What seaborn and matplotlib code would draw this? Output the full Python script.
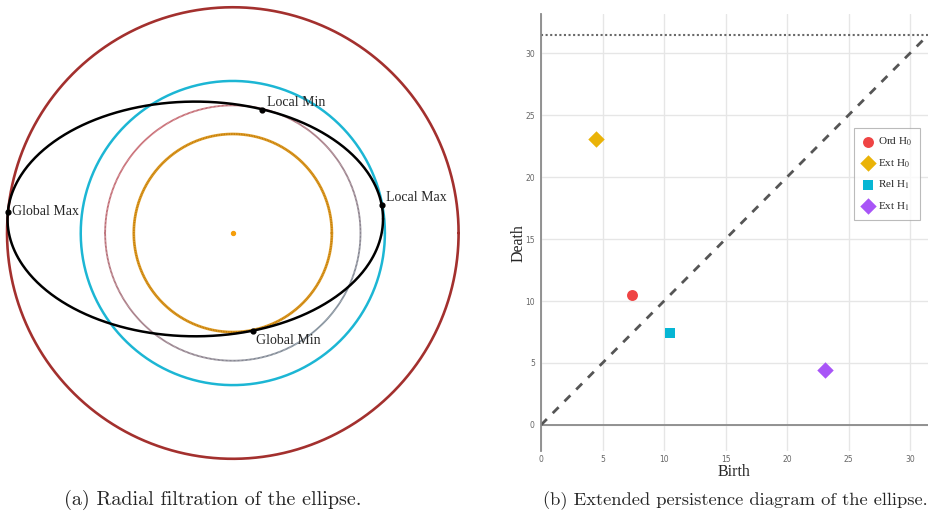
import numpy as np
import pandas as pd
import seaborn as sns
import matplotlib.pyplot as plt
from matplotlib.collections import LineCollection
from matplotlib.colors import to_rgb

# ellipse and radial filtration (left panel)
ellipse_center = (-0.8, 0.3)
ellipse_axes = (4.0, 2.5)
circle_radii = [2.11, 2.72, 3.24, 4.81]
crit_names = ['Global Max', 'Local Max', 'Local Min', 'Global Min']
crit_x = [-4.79, 3.17, 0.63, 0.42]
crit_y = [0.45, 0.59, 2.63, -2.08]

# extended persistence diagram (right panel)
kinds = ['Ord H$_0$', 'Ext H$_0$', 'Rel H$_1$', 'Ext H$_1$']
birth = [7.4, 4.47, 10.5, 23.1]
death = [10.5, 23.06, 7.42, 4.44]
kind_colors = ['#ef4444', '#eab308', '#06b6d4', '#a855f7']
kind_markers = ['o', 'D', 's', 'D']
kind_sizes = [62, 70, 55, 70]
inf_value = 31.45
x_ticks = [0, 5, 10, 15, 20, 25, 30]
y_ticks = [0, 5, 10, 15, 20, 25, 30]

sns.set_style('white')
plt.rcParams['font.family'] = ['Liberation Serif', 'DejaVu Serif']
plt.rcParams['mathtext.fontset'] = 'stix'

fig = plt.figure(figsize=(9.35, 5.19), dpi=100)

# ---- left: radial filtration ----
ax1 = fig.add_axes([0, 0.102, 0.498, 0.898])
t = np.linspace(0, 2 * np.pi, 600)

r_orange, r_mid, r_cyan, r_red = circle_radii
ax1.plot(r_red * np.cos(t), r_red * np.sin(t), color='#a3302e', lw=1.9, zorder=2)
ax1.plot(r_cyan * np.cos(t), r_cyan * np.sin(t), color='#1cb6d4', lw=1.8, zorder=2)

# middle circle: reddish at top-left fading to gray
pts = np.column_stack([r_mid * np.cos(t), r_mid * np.sin(t)])
segs = np.stack([pts[:-1], pts[1:]], axis=1)
w = (1 + np.cos(t[:-1] - 2.3)) / 2
c_red, c_gray = np.array(to_rgb('#c86a72')), np.array(to_rgb('#7f8c98'))
cols = w[:, None] * c_red + (1 - w[:, None]) * c_gray
ax1.add_collection(LineCollection(segs, colors=cols, linewidths=1.3, zorder=2))

ax1.plot(r_orange * np.cos(t), r_orange * np.sin(t), color='#e0a030', lw=2.0, zorder=3)
ax1.plot(r_orange * np.cos(t), r_orange * np.sin(t), color='#c07800', lw=1.2,
         linestyle=(0, (0.5, 0.5)), zorder=3)

cx, cy = ellipse_center
ea, eb = ellipse_axes
ax1.plot(cx + ea * np.cos(t), cy + eb * np.sin(t), color='black', lw=1.8, zorder=4)

ax1.scatter([0], [0], s=8, color='#f59e0b', zorder=5)
ax1.scatter(crit_x, crit_y, s=12, color='black', zorder=6)

label_offsets = {'Global Max': (0.08, 0.0),
                 'Local Max': (0.1, 0.17),
                 'Local Min': (0.09, 0.16),
                 'Global Min': (0.07, -0.2)}
for name, x, y in zip(crit_names, crit_x, crit_y):
    dx, dy = label_offsets[name]
    ax1.text(x + dx, y + dy, name, fontsize=10, ha='left', va='center', zorder=7)

ax1.set_xlim(-4.96, 4.96)
ax1.set_ylim(-4.96, 4.96)
ax1.set_aspect('equal')
ax1.axis('off')

# ---- right: extended persistence diagram ----
ax2 = fig.add_axes([0.5786, 0.131, 0.4139, 0.842])
ax2.set_xlim(0, inf_value)
ax2.set_ylim(-2.1, 33.15)

ax2.grid(True, color='#e6e6e6', lw=1)
ax2.set_axisbelow(True)
ax2.axhline(0, color='#8a8a8a', lw=1.3, zorder=1)
ax2.axhline(inf_value, color='#6a6a6a', lw=1.5, linestyle=(0, (1, 1.2)), zorder=2)
ax2.plot([0, inf_value], [0, inf_value], color='#555555', lw=2,
         linestyle=(0, (3, 3)), zorder=2)

df = pd.DataFrame({'birth': birth, 'death': death, 'kind': kinds})
for kind, col, mk, sz in zip(kinds, kind_colors, kind_markers, kind_sizes):
    sns.scatterplot(data=df[df['kind'] == kind], x='birth', y='death', color=col,
                    marker=mk, s=sz, linewidth=0, label=kind, ax=ax2, zorder=4)

for side in ['top', 'right', 'bottom']:
    ax2.spines[side].set_visible(False)
ax2.spines['left'].set_color('#8a8a8a')
ax2.spines['left'].set_linewidth(1.3)

ax2.set_xticks(x_ticks)
ax2.set_yticks(y_ticks)
ax2.tick_params(axis='both', colors='#8a8a8a', labelcolor='#666666', length=3,
                width=1, labelsize=5.5, direction='out', pad=1.5)
ax2.tick_params(axis='x', pad=0)
for lab in ax2.get_xticklabels() + ax2.get_yticklabels():
    lab.set_fontfamily('DejaVu Sans')

ax2.set_xlabel('Birth', fontsize=11.5, labelpad=0)
ax2.set_ylabel('Death', fontsize=11.5, labelpad=2)
ax2.yaxis.set_label_coords(-0.038, 0.476)

leg = ax2.legend(loc='upper right', bbox_to_anchor=(0.979, 0.739), fontsize=8,
                 frameon=True, fancybox=False, edgecolor='#aaaaaa',
                 labelspacing=0.8, handletextpad=0.3, borderpad=0.7,
                 handlelength=1.2, markerscale=1.0, borderaxespad=0)
leg.get_frame().set_linewidth(0.8)

# captions
fig.text(0.228, 0.036, '(a) Radial filtration of the ellipse.', family='cmr10',
         fontsize=14.5, ha='center', va='center')
fig.text(0.7866, 0.036, '(b) Extended persistence diagram of the ellipse.',
         family='cmr10', fontsize=13.3, ha='center', va='center')

fig.savefig('out.png', dpi=100)
